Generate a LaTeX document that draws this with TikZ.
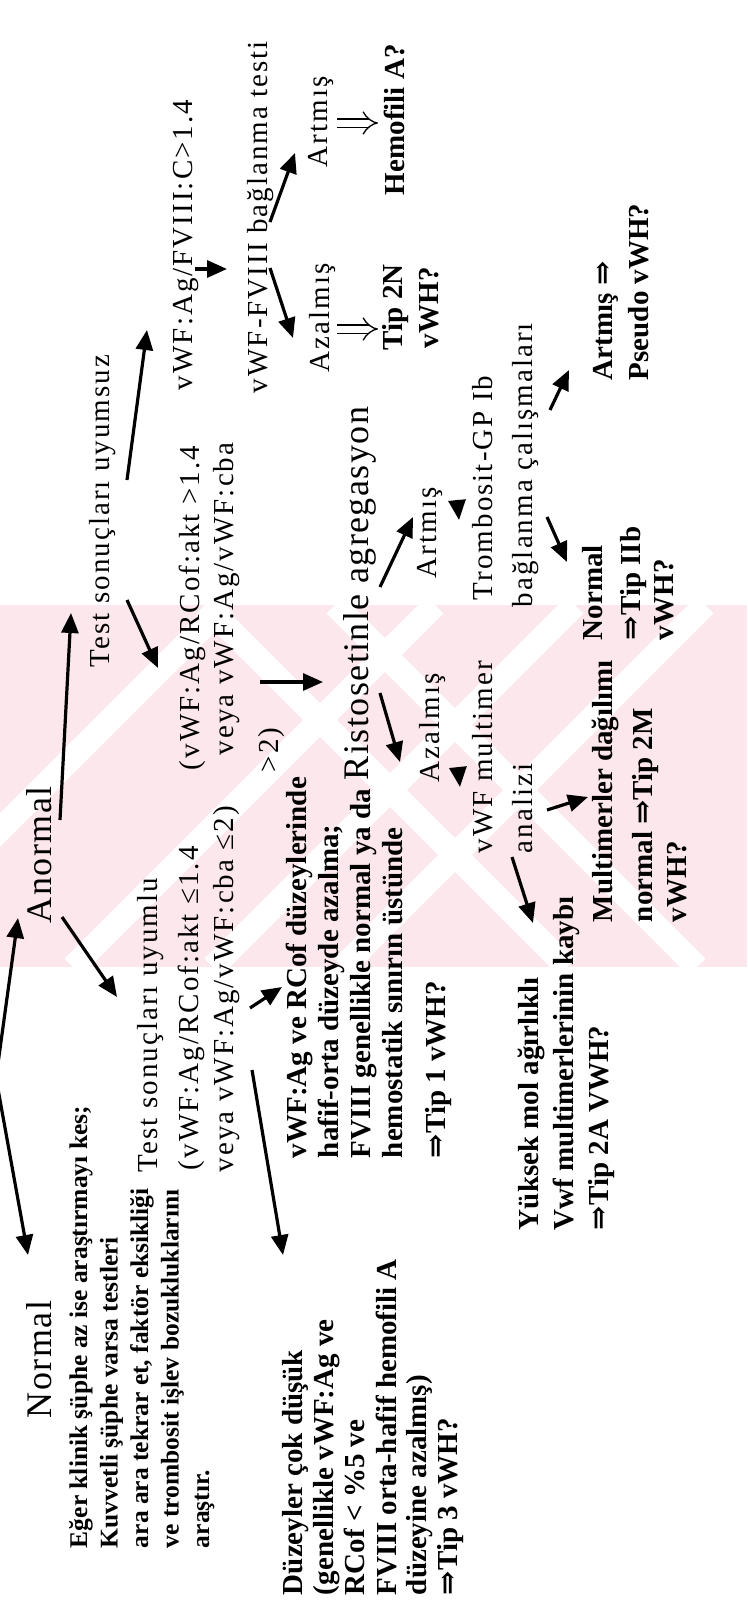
\documentclass[tikz,border=0pt]{standalone}
\usepackage{fontspec}
\setmainfont{Liberation Serif}
\newfontfamily\lsfam[LetterSpace=7]{Liberation Serif}
\newfontfamily\lsbig[LetterSpace=4]{Liberation Serif}
\newfontfamily\arrfam{DejaVu Serif}
\usetikzlibrary{arrows.meta}
\newcommand\symar{{\arrfam ⇒}}
\definecolor{wmpink}{RGB}{252,231,236}
\tikzset{
  every node/.style={inner sep=0pt, outer sep=0pt},
  txt/.style={rotate=90, anchor=base west},
  big/.style={txt, font=\lsbig\fontsize{36}{40}\selectfont},
  med/.style={txt, font=\lsfam\fontsize{29}{32}\selectfont},
  bld/.style={txt, font=\bfseries\fontsize{29}{31}\selectfont},
  bsm/.style={txt, font=\bfseries\fontsize{25.5}{30}\selectfont},
  arw/.style={line width=3.2pt, -{Triangle[length=20pt,width=17pt]}},
  dblarr/.style={double, double distance=7pt, line width=1.3pt, -{Implies[length=11pt,width=26pt]}},
  wmband/.style={white, line width=24pt},
}
\begin{document}
\begin{tikzpicture}[x=1pt,y=-1pt]
\useasboundingbox (0,0) rectangle (747,1617);
\fill[white] (0,0) rectangle (747,1617);
% watermark
\begin{scope}
  \clip (0,605) rectangle (747,967);
  \fill[wmpink] (0,605) rectangle (747,967);
  \draw[wmband] (-137,967) -- (225,605);
  \draw[wmband] (73,967) -- (435,605);
  \draw[wmband] (213,967) -- (575,605);
  \draw[wmband] (343,967) -- (705,605);
  \draw[wmband] (335,605) -- (697,967);
  \draw[wmband] (205,605) -- (567,967);
\end{scope}

% left column
\node[big] (normal) at (51,1418) {Normal};
\node[bsm] (e1) at (87,1548) {Eğer klinik şüphe az ise araştırmayı kes;};
\node[bsm] (e2) at (117.5,1548) {Kuvvetli şüphe varsa testleri};
\node[bsm] (e3) at (148,1548) {ara ara tekrar et, faktör eksikliği};
\node[bsm] (e4) at (178.5,1548) {ve trombosit işlev bozukluklarını};
\node[bsm] (e5) at (209,1548) {araştır.};

\node[big] (anormal) at (51,923) {Anormal};

\node[med] (uy1) at (157,1172) {Test sonuçları uyumlu};
\node[med] (uy2) at (198,1170) {(vWF:Ag/RCof:akt ≤1.4};
\node[med] (uy3) at (233,1172) {veya vWF:Ag/vWF:cba ≤2)};
\node[med] (us1) at (109,667) {Test sonuçları uyumsuz};
\node[med] (us2) at (199,770) {(vWF:Ag/RCof:akt >1.4};
\node[med] (us3) at (233,755) {veya vWF:Ag/vWF:cba};
\node[med] (us4) at (278,772) {>2)};

% FVIII branch
\node[med] (fv1) at (192,390) {vWF:Ag/FVIII:C>1.4};
\node[med] (fv2) at (267,393) {vWF-FVIII bağlanma testi};
\node[med] (fvaz) at (329,372) {Azalmış};
\node[bld] (t2n) at (402,350) {Tip 2N};
\node[bld] (t2nv) at (438,348) {vWH?};
\node[med] (fvar) at (327,167) {Artmış};
\node[bld] (hemo) at (404,195) {Hemofili A?};
\coordinate (dazs) at (337,329); \coordinate (daze) at (378,329);
\coordinate (dars) at (337,123); \coordinate (dare) at (378,123);
\draw[dblarr] (dazs) -- (daze);
\draw[dblarr] (dars) -- (dare);

% vWF:Ag ve RCof block
\node[bld] (v1) at (306,1158) {vWF:Ag ve RCof düzeylerinde};
\node[bld] (v2) at (338,1158) {hafif-orta düzeyde azalma;};
\node[bld] (v3) at (370,1158) {FVIII genellikle normal ya da};
\node[bld] (v4) at (402,1158) {hemostatik sınırın üstünde};
\node[bld] (v5) at (445,1158) {\symar Tip 1 vWH?};

% Düzeyler block
\node[bld] (d1) at (302,1595) {Düzeyler çok düşük};
\node[bld] (d2) at (333,1595) {(genellikle vWF:Ag ve};
\node[bld] (d3) at (364,1595) {RCof < \%5 ve};
\node[bld] (d4) at (396,1595) {FVIII orta-hafif hemofili A};
\node[bld] (d5) at (426,1595) {düzeyine azalmış)};
\node[bld] (d6) at (457,1595) {\symar Tip 3 vWH?};

% Ristosetin branch
\node[big] (risto) at (368,780) {Ristosetinle agregasyon};
\node[med] (rar) at (436,578) {Artmış};
\node[med] (raz) at (439,782) {Azalmış};
\node[med] (mult1) at (492,853) {vWF multimer};
\node[med] (mult2) at (532,853) {analizi};
\node[med] (tr1) at (492,600) {Trombosit-GP Ib};
\node[med] (tr2) at (532,607) {bağlanma çalışmaları};

\node[bld] (y1) at (538,1230) {Yüksek mol ağırlıklı};
\node[bld] (y2) at (573,1230) {Vwf multimerlerinin kaybı};
\node[bld] (y3) at (608,1230) {\symar Tip 2A VWH?};
\node[bld] (m1) at (612,922) {Multimerler dağılımı};
\node[bld] (m2) at (652,922) {normal \symar Tip 2M};
\node[bld] (m3) at (686,922) {vWH?};
\node[bld] (n1) at (602,640) {Normal};
\node[bld] (n2) at (640,640) {\symar Tip IIb};
\node[bld] (n3) at (673,640) {vWH?};
\node[bld] (p1) at (612,380) {Artmış \symar};
\node[bld] (p2) at (648,380) {Pseudo vWH?};

% connector end points
\coordinate (root) at (-4,1078);
\coordinate (tAn) at (18,918);
\coordinate (tNo) at (28,1255);
\coordinate (a2s) at (60,820);   \coordinate (a2e) at (71,613);
\coordinate (a3s) at (62,917);   \coordinate (a3e) at (117,997);
\coordinate (a4s) at (127,600);  \coordinate (a4e) at (158,668);
\coordinate (a5s) at (127,480);  \coordinate (a5e) at (147,330);
\coordinate (a6s) at (195,269);  \coordinate (a6e) at (227,269);
\coordinate (a7s) at (270,268);  \coordinate (a7e) at (293,338);
\coordinate (a8s) at (270,222);  \coordinate (a8e) at (295,153);
\coordinate (a9s) at (260,682);  \coordinate (a9e) at (323,682);
\coordinate (a10s) at (380,587); \coordinate (a10e) at (413,517);
\coordinate (a11s) at (380,693); \coordinate (a11e) at (400,762);
\coordinate (a12s) at (458,768); \coordinate (a12e) at (460,787);
\coordinate (a13s) at (457,500); \coordinate (a13e) at (459,520);
\coordinate (a14s) at (512,857); \coordinate (a14e) at (533,923);
\coordinate (a15s) at (547,810); \coordinate (a15e) at (588,797);
\coordinate (a16s) at (547,517); \coordinate (a16e) at (567,562);
\coordinate (a17s) at (550,410); \coordinate (a17e) at (569,370);
\coordinate (a18s) at (250,1008);\coordinate (a18e) at (282,987);
\coordinate (a19s) at (252,1070);\coordinate (a19e) at (283,1255);

\draw[arw] (root) -- (tAn);
\draw[arw] (root) -- (tNo);
\foreach \i in {2,...,19} {\draw[arw] (a\i s) -- (a\i e);}
\end{tikzpicture}
\end{document}
